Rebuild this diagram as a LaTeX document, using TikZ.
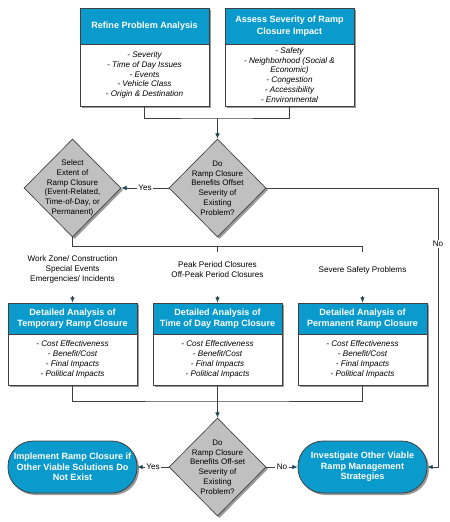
\documentclass[tikz,border=0pt]{standalone}
\usepackage{fontspec}
\setmainfont{Liberation Sans}
\usetikzlibrary{shapes.geometric,shadows,arrows.meta}
\definecolor{hdrblue}{HTML}{0A9BCC}
\definecolor{decgray}{HTML}{C0C0C0}
\definecolor{tipteal}{HTML}{1D4B5C}
\definecolor{edgegray}{HTML}{404040}
\tikzset{
  boxshadow/.style={drop shadow={shadow xshift=1.5pt,shadow yshift=-1.5pt,fill=black!40,opacity=1}},
  hdr/.style={boxshadow, draw=edgegray, line width=0.6pt, fill=hdrblue, text=white, inner sep=1pt,
    minimum width=96.75pt, align=center, font=\bfseries\fontsize{6.8}{8.5}\selectfont},
  lst/.style={boxshadow, draw=edgegray, line width=0.6pt, fill=white, inner sep=1pt,
    minimum width=96.75pt, align=center, font=\itshape\fontsize{6.1}{7.4}\selectfont},
  dec/.style={boxshadow, diamond, draw=edgegray, line width=0.5pt, fill=decgray, inner sep=0pt,
    minimum width=72.75pt, minimum height=73.5pt},
  dectext/.style={align=center, font=\fontsize{6}{7.3}\selectfont},
  term/.style={boxshadow, draw=edgegray, line width=0.6pt, fill=hdrblue, text=white, rounded corners=19pt,
    minimum width=96.75pt, minimum height=39pt, inner sep=1pt, align=center,
    font=\bfseries\fontsize{6.8}{8}\selectfont},
  case/.style={align=center, font=\fontsize{6.1}{7.5}\selectfont},
  ans/.style={fill=white, inner sep=1pt, font=\fontsize{6.1}{7.5}\selectfont},
  conn/.style={draw=edgegray, line width=0.6pt},
  arr/.style={conn, -{Latex[length=4pt,width=3.5pt,color=tipteal]}}
}
\begin{document}
\begin{tikzpicture}[x=0.75pt,y=-0.75pt]
    \useasboundingbox (0,0) rectangle (450,522);
    % problem analysis
    \node[hdr, minimum height=27pt] (refh) at (144.5,26) {Refine Problem Analysis};
    \node[lst, minimum height=46.5pt] (refb) at (144.5,75)
        {- Severity\\- Time of Day Issues\\- Events\\- Vehicle Class\\- Origin \& Destination};
    \node[hdr, minimum height=27pt] (sevh) at (289.5,26) {Assess Severity of Ramp\\Closure Impact};
    \node[lst, minimum height=46.5pt] (sevb) at (289.5,75)
        {- Safety\\- Neighborhood (Social \&\\Economic)\\- Congestion\\- Accessibility\\- Environmental};
    % decisions
    \node[dec, label={[dectext]center:Do\\Ramp Closure\\Benefits Offset\\Severity of\\Existing\\Problem?}] (d1) at (217.5,188) {};
    \node[dec, label={[dectext]center:Select\\Extent of\\Ramp Closure\\(Event-Related,\\Time-of-Day, or\\Permanent)}] (d2) at (72.5,188) {};
    \node[dec, label={[dectext]center:Do\\Ramp Closure\\Benefits Off-set\\Severity of\\Existing\\Problem?}] (d3) at (217.5,467) {};
    % closure types
    \node[case] (c0) at (72.5,269) {Work Zone/ Construction\\Special Events\\Emergencies/ Incidents};
    \node[case] (c1) at (217.5,270) {Peak Period Closures\\Off-Peak Period Closures};
    \node[case] (c2) at (362.5,270) {Severe Safety Problems};
    \foreach \i/\x/\t in {0/72.5/Temporary Ramp Closure,1/217.5/Time of Day Ramp Closure,2/362.5/Permanent Ramp Closure} {
        \node[hdr, minimum height=23.25pt] (dh\i) at (\x,318.5) {Detailed Analysis of\\\t};
        \node[lst, minimum height=38.25pt] (db\i) at (\x,359.5)
            {- Cost Effectiveness\\- Benefit/Cost\\- Final Impacts\\- Political Impacts};
        \coordinate (a\i) at (\x,296);
    }
    % outcomes
    \node[term] (imp) at (72.5,467) {Implement Ramp Closure if\\Other Viable Solutions Do\\Not Exist};
    \node[term] (inv) at (362.5,467) {Investigate Other Viable\\Ramp Management\\Strategies};
    % connectors
    \coordinate (j0) at (217.5,118);
    \coordinate (j1) at (362.5,246);
    \coordinate (j2) at (217.5,401);
    \coordinate (k0) at (438,188);
    \coordinate (t1) at (217.5,246);
    \coordinate (t2) at (217.5,252);
    \coordinate (t3) at (362.5,252);
    \draw[conn] (refb.south) |- (j0) -| (sevb.south);
    \draw[arr] (j0) -- (d1.north);
    \draw[arr] (d1.west) -- node[ans] {Yes} (d2.east);
    \draw[arr] (d1.east) -- (k0) |- node[ans, pos=0.1] {No} (inv.east);
    \draw[conn] (d2.south) |- (j1) -- (t3);
    \draw[conn] (t1) -- (t2);
    \foreach \i in {0,1,2}
        \draw[arr] (a\i) -- (dh\i.north);
    \draw[conn] (db0.south) |- (j2) -| (db2.south);
    \draw[arr] (db1.south) -- (d3.north);
    \draw[arr] (d3.west) -- node[ans] {Yes} (imp.east);
    \draw[arr] (d3.east) -- node[ans] {No} (inv.west);
\end{tikzpicture}
\end{document}
